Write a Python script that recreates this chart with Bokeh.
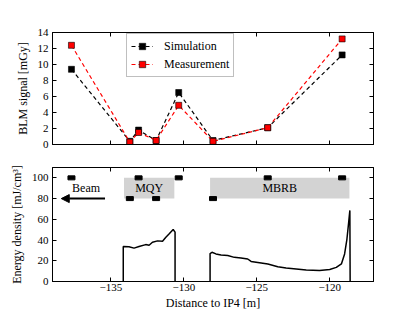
from bokeh.plotting import figure
from bokeh.layouts import column
from bokeh.models import (LinearAxis, Range1d, FixedTicker, Arrow, NormalHead,
                          Legend, LegendItem, ColumnDataSource)
from bokeh.embed import file_html
from bokeh.resources import INLINE
from bokeh.core.properties import value

FONT = "Liberation Serif"

# ---- data ----
blm_pos = [-137.7, -133.7, -133.1, -131.9, -130.35, -128.0, -124.25, -119.15]
simulation = [9.4, 0.4, 1.8, 0.5, 6.5, 0.5, 2.1, 11.2]
measurement = [12.4, 0.3, 1.5, 0.5, 4.9, 0.4, 2.1, 13.2]
blm_level = [100, 80, 100, 80, 100, 80, 100, 100]

magnet_names = ["MQY", "MBRB"]
magnet_start = [-134.1, -128.2]
magnet_end = [-130.65, -118.65]
magnet_bottom = [80, 80]
magnet_top = [100, 100]
magnet_label_y = [90, 90]

beam_label = ["Beam"]
beam_label_x = [-136.7]
beam_label_y = [90]
beam_arrow_x = [-135.4, -138.4]
beam_arrow_y = [80, 80]

seg1_x = [-134.15, -134.15, -133.76, -133.41, -133.07, -132.61, -132.38, -132.15,
          -131.80, -131.46, -131.23, -131.0, -130.73, -130.6, -130.6]
seg1_y = [0, 33.7, 33.5, 32.2, 33.7, 35.6, 35.0, 37.9, 39.2, 38.8, 42.7, 46.0, 50.2, 47.6, 0]

seg2_x = [-128.2, -128.2, -128.07, -127.8, -127.45, -126.99, -126.54, -126.08, -125.62,
          -125.39, -124.93, -124.24, -123.56, -122.99, -122.3, -121.61, -120.7, -120.0,
          -119.55, -119.2, -118.98, -118.82, -118.7, -118.62, -118.6]
seg2_y = [0, 27.0, 28.2, 26.6, 25.6, 25.0, 23.3, 22.7, 21.7, 19.4, 18.4, 16.9, 14.3, 13.0,
          12.0, 11.0, 10.6, 11.6, 13.6, 16.9, 26.6, 41.0, 57.3, 68.6, 0]

x_ticks = [-135, -130, -125, -120]
x_tick_labels = ["\u2212135", "\u2212130", "\u2212125", "\u2212120"]
blm_ticks = [0, 2, 4, 6, 8, 10, 12, 14]
energy_ticks = [0, 20, 40, 60, 80, 100]

x_range = Range1d(-139, -117)

LEFT = 52
RIGHT = 37
FRAME_W = 321


def style_axis(ax, ticks, labels=None, hide=False):
    ax.ticker = FixedTicker(ticks=ticks)
    ax.major_tick_in = 4
    ax.major_tick_out = 0
    ax.minor_tick_in = 0
    ax.minor_tick_out = 0
    ax.axis_line_color = "black"
    ax.major_tick_line_color = "black"
    ax.major_label_text_font = FONT
    ax.major_label_text_font_size = "11px"
    ax.major_label_text_color = "black"
    ax.major_label_standoff = 4
    ax.axis_label_text_font = FONT
    ax.axis_label_text_font_size = "12px"
    ax.axis_label_text_font_style = "normal"
    ax.axis_label_text_color = "black"
    ax.axis_label_standoff = 5
    if hide:
        ax.major_label_overrides = {t: "" for t in ticks}
        ax.major_label_standoff = 0
        ax.major_label_text_font_size = "1px"
    elif labels is not None:
        ax.major_label_overrides = {t: l for t, l in zip(ticks, labels)}


def add_mirror_axes(p, yticks):
    top = LinearAxis()
    style_axis(top, x_ticks, hide=True)
    p.add_layout(top, "above")
    right = LinearAxis()
    style_axis(right, yticks, hide=True)
    p.add_layout(right, "right")


# ---- top figure ----
p1 = figure(frame_width=FRAME_W, frame_height=112, x_range=x_range, y_range=Range1d(0, 14),
            output_backend="svg", toolbar_location=None,
            min_border_left=LEFT, min_border_right=RIGHT,
            min_border_top=32, min_border_bottom=11)
p1.grid.visible = False
p1.outline_line_color = "black"
style_axis(p1.xaxis[0], x_ticks, hide=True)
style_axis(p1.yaxis[0], blm_ticks)
p1.yaxis[0].axis_label = "BLM signal [mGy]"
add_mirror_axes(p1, blm_ticks)

src = ColumnDataSource(dict(x=blm_pos, sim=simulation, meas=measurement))
l_sim = p1.line("x", "sim", source=src, line_color="black", line_width=1.2, line_dash="4 3")
s_sim = p1.scatter("x", "sim", source=src, marker="square", size=6,
                   fill_color="black", line_color="black", line_width=0.6)
l_meas = p1.line("x", "meas", source=src, line_color="#ff0000", line_width=1.2, line_dash="4 3")
s_meas = p1.scatter("x", "meas", source=src, marker="square", size=6,
                    fill_color="#ff0000", line_color="black", line_width=0.6)

legend = Legend(items=[LegendItem(label="Simulation", renderers=[l_sim, s_sim]),
                       LegendItem(label="Measurement", renderers=[l_meas, s_meas])],
                location=(74, 67), orientation="vertical")
legend.label_text_font = FONT
legend.label_text_font_size = "12px"
legend.label_text_color = "black"
legend.border_line_color = "#7f7f7f"
legend.border_line_width = 1.5
legend.background_fill_color = "white"
legend.background_fill_alpha = 1
legend.glyph_width = 22
legend.glyph_height = 16
legend.label_height = 16
legend.spacing = 2
legend.padding = 4
legend.margin = 0
legend.label_standoff = 11
p1.add_layout(legend, "center")

# ---- bottom figure ----
p2 = figure(frame_width=FRAME_W, frame_height=114, x_range=x_range, y_range=Range1d(0, 110),
            output_backend="svg", toolbar_location=None,
            min_border_left=LEFT, min_border_right=RIGHT,
            min_border_top=12, min_border_bottom=31)
p2.grid.visible = False
p2.outline_line_color = "black"
style_axis(p2.xaxis[0], x_ticks, labels=x_tick_labels)
p2.xaxis[0].axis_label = "Distance to IP4 [m]"
p2.xaxis[0].axis_label_standoff = 2
p2.xaxis[0].major_label_standoff = 2
style_axis(p2.yaxis[0], energy_ticks)
p2.yaxis[0].axis_label = "Energy density [mJ/cm\u00b3]"
add_mirror_axes(p2, energy_ticks)

p2.quad(left=magnet_start, right=magnet_end, bottom=magnet_bottom, top=magnet_top,
        fill_color="#d3d3d3", line_color=None)
p2.text(x=[(a + b) / 2 for a, b in zip(magnet_start, magnet_end)], y=magnet_label_y,
        text=magnet_names, text_align="center", text_baseline="middle",
        text_font=value(FONT), text_font_size="12px", text_color="black")
p2.rect(x=blm_pos, y=blm_level, width=7, height=4, width_units="screen",
        height_units="screen", fill_color="black", line_color="black")
p2.text(x=beam_label_x, y=beam_label_y, text=beam_label, text_align="center",
        text_baseline="middle", text_font=value(FONT), text_font_size="12px",
        text_color="black")
p2.add_layout(Arrow(end=NormalHead(size=8, fill_color="black", line_color="black"),
                    x_start=beam_arrow_x[0], y_start=beam_arrow_y[0],
                    x_end=beam_arrow_x[1], y_end=beam_arrow_y[1],
                    line_color="black", line_width=2))
p2.line(seg1_x, seg1_y, line_color="black", line_width=1.5)
p2.line(seg2_x, seg2_y, line_color="black", line_width=1.5)

layout = column(p1, p2, spacing=0)
open("out.html", "w").write(file_html(layout, INLINE))
